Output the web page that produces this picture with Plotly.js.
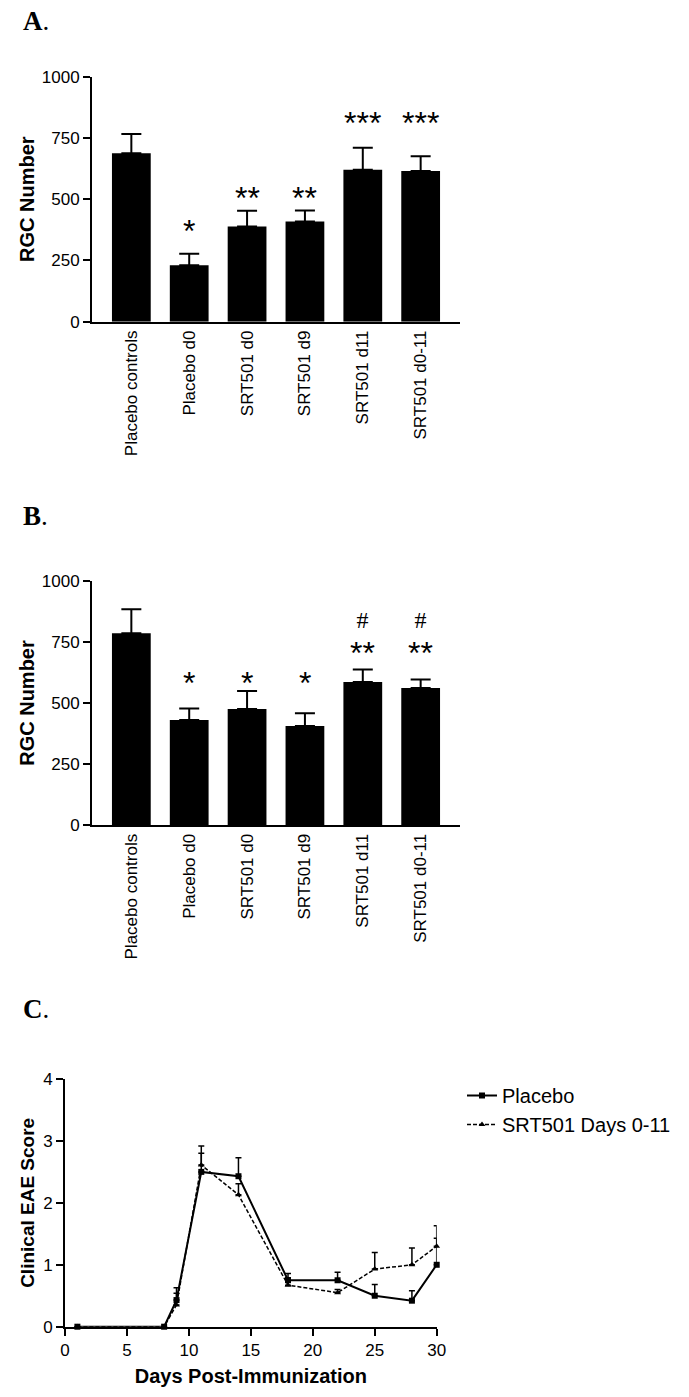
<!DOCTYPE html>
<html>
<head>
<meta charset="utf-8">
<script src="https://cdn.plot.ly/plotly-3.0.1.min.js"></script>
<style>
  html, body { margin: 0; padding: 0; background: #fff; }
  #myDiv { width: 689px; height: 1397px; }
</style>
</head>
<body>
<div id="myDiv"></div>
<script>
var groups = ['Placebo controls', 'Placebo d0', 'SRT501 d0', 'SRT501 d9', 'SRT501 d11', 'SRT501 d0-11'];

// panel A
var rgcA = [688, 230, 389, 409, 620, 615];
var semA = [78, 47, 64, 45, 90, 60];
var marksA = ['', '*', '**', '**', '***', '***'];
var markYA = [0, 382, 517, 517, 824, 824];

// panel B
var rgcB = [786, 430, 475, 406, 586, 561];
var semB = [98, 47, 74, 52, 51, 35];
var marksB = ['', '*', '*', '*', '**', '**'];
var markYB = [0, 594, 594, 594, 762, 762];
var hashB = [false, false, false, false, true, true];

// panel C
var days = [1, 8, 9, 11, 14, 18, 22, 25, 28, 30];
var placebo = [0, 0, 0.43, 2.50, 2.43, 0.75, 0.75, 0.50, 0.42, 1.00];
var placeboErr = [0, 0, 0.20, 0.42, 0.30, 0.11, 0.13, 0.18, 0.16, 0.43];
var srt = [0, 0, 0.35, 2.61, 2.13, 0.67, 0.55, 0.93, 1.00, 1.30];
var srtErr = [0, 0, 0.19, 0.19, 0.18, 0.12, 0.05, 0.27, 0.27, 0.33];

var zeros = days.map(function () { return 0; });
var barZeros = groups.map(function () { return 0; });

var data = [{
  type: 'bar',
  x: groups,
  y: rgcA,
  xaxis: 'x', yaxis: 'y',
  marker: {color: '#000'},
  error_y: {type: 'data', array: semA, arrayminus: barZeros, symmetric: false,
            color: '#000', thickness: 2, width: 10},
  showlegend: false
}, {
  type: 'bar',
  x: groups,
  y: rgcB,
  xaxis: 'x2', yaxis: 'y2',
  marker: {color: '#000'},
  error_y: {type: 'data', array: semB, arrayminus: barZeros, symmetric: false,
            color: '#000', thickness: 2, width: 10},
  showlegend: false
}, {
  type: 'scatter',
  mode: 'lines+markers',
  name: 'Placebo',
  x: days,
  y: placebo,
  xaxis: 'x3', yaxis: 'y3',
  line: {color: '#000', width: 2},
  marker: {symbol: 'square', size: 6, color: '#000'},
  error_y: {type: 'data', array: placeboErr, arrayminus: zeros, symmetric: false,
            color: '#000', thickness: 1.5, width: 3},
  cliponaxis: false
}, {
  type: 'scatter',
  mode: 'lines+markers',
  name: 'SRT501 Days 0-11',
  x: days,
  y: srt,
  xaxis: 'x3', yaxis: 'y3',
  line: {color: '#000', width: 1.5, dash: '4px,2px'},
  marker: {symbol: 'triangle-up', size: 6, color: '#000'},
  error_y: {type: 'data', array: srtErr, arrayminus: zeros, symmetric: false,
            color: '#000', thickness: 1.5, width: 3},
  cliponaxis: false
}];

var sans = 'Liberation Sans, Arial, sans-serif';
var serif = 'Liberation Serif, Times New Roman, serif';

function catAxis(domain, anchor) {
  return {
    domain: domain, anchor: anchor,
    range: [-0.68, 5.68],
    showline: true, linecolor: '#000', linewidth: 2,
    ticks: '', tickangle: -90,
    tickfont: {family: sans, size: 17, color: '#000'},
    showgrid: false, zeroline: false, fixedrange: true
  };
}

function rgcAxis(domain, anchor) {
  return {
    domain: domain, anchor: anchor,
    range: [0, 1000], tickvals: [0, 250, 500, 750, 1000],
    showline: true, linecolor: '#000', linewidth: 2,
    ticks: 'outside', ticklen: 7, tickwidth: 2, tickcolor: '#000',
    tickfont: {family: sans, size: 17, color: '#000'},
    showgrid: false, zeroline: false,
    title: {text: 'RGC Number', font: {family: sans, size: 20, color: '#000', weight: 'bold'}, standoff: 2}
  };
}

var annotations = [
  {text: '<b>A</b>.', xref: 'paper', yref: 'paper', x: 21 / 689, y: 1 - 21 / 1397, xanchor: 'left', yanchor: 'middle',
   showarrow: false, font: {family: serif, size: 27, color: '#000'}},
  {text: '<b>B</b>.', xref: 'paper', yref: 'paper', x: 21 / 689, y: 1 - 516 / 1397, xanchor: 'left', yanchor: 'middle',
   showarrow: false, font: {family: serif, size: 27, color: '#000'}},
  {text: '<b>C</b>.', xref: 'paper', yref: 'paper', x: 21 / 689, y: 1 - 1009 / 1397, xanchor: 'left', yanchor: 'middle',
   showarrow: false, font: {family: serif, size: 27, color: '#000'}}
];

groups.forEach(function (g, i) {
  if (marksA[i]) {
    annotations.push({text: marksA[i], xref: 'x', yref: 'y', x: g, y: markYA[i], yanchor: 'middle', yshift: -3,
      showarrow: false, font: {family: sans, size: 32, color: '#000'}});
  }
  if (marksB[i] && !hashB[i]) {
    annotations.push({text: marksB[i], xref: 'x2', yref: 'y2', x: g, y: markYB[i], yanchor: 'middle', yshift: -3,
      showarrow: false, font: {family: sans, size: 32, color: '#000'}});
  }
  if (marksB[i] && hashB[i]) {
    annotations.push({
      text: '<span style="font-family:Liberation Serif, serif;font-size:24px">#</span><br>' +
            '<span style="font-size:32px">' + marksB[i] + '</span>',
      xref: 'x2', yref: 'y2', x: g, y: markYB[i], yanchor: 'middle',
      showarrow: false, font: {family: sans, size: 28, color: '#000'}});
  }
});

var layout = {
  width: 689,
  height: 1397,
  margin: {l: 0, r: 0, t: 0, b: 0},
  paper_bgcolor: '#fff',
  plot_bgcolor: '#fff',
  bargap: 0.33,
  font: {family: sans, color: '#000'},
  xaxis: catAxis([92 / 689, 460 / 689], 'y'),
  yaxis: rgcAxis([1 - 321.7 / 1397, 1 - 76.7 / 1397], 'x'),
  xaxis2: catAxis([92 / 689, 460 / 689], 'y2'),
  yaxis2: rgcAxis([1 - 825 / 1397, 1 - 581 / 1397], 'x2'),
  xaxis3: {
    domain: [65 / 689, 436.7 / 689], anchor: 'y3',
    range: [0, 30], tickvals: [0, 5, 10, 15, 20, 25, 30],
    showline: true, linecolor: '#000', linewidth: 2,
    ticks: 'outside', ticklen: 7, tickwidth: 2, tickcolor: '#000',
    tickfont: {family: sans, size: 17, color: '#000'},
    showgrid: false, zeroline: false,
    title: {text: 'Days Post-Immunization', font: {family: sans, size: 20, color: '#000', weight: 'bold'}, standoff: 10}
  },
  yaxis3: {
    domain: [1 - 1326.7 / 1397, 1 - 1079 / 1397], anchor: 'x3',
    range: [0, 4], tickvals: [0, 1, 2, 3, 4],
    showline: true, linecolor: '#000', linewidth: 2,
    ticks: 'outside', ticklen: 7, tickwidth: 2, tickcolor: '#000',
    tickfont: {family: sans, size: 17, color: '#000'},
    showgrid: false, zeroline: false,
    title: {text: 'Clinical EAE Score', font: {family: sans, size: 19, color: '#000', weight: 'bold'}, standoff: 3}
  },
  showlegend: true,
  legend: {
    x: 462 / 689, y: 1 - 1076 / 1397, xanchor: 'left', yanchor: 'top',
    font: {family: sans, size: 20, color: '#000'},
    bgcolor: 'rgba(0,0,0,0)', tracegroupgap: 0
  },
  annotations: annotations
};

Plotly.newPlot('myDiv', data, layout, {displayModeBar: false, staticPlot: true});
</script>
</body>
</html>
